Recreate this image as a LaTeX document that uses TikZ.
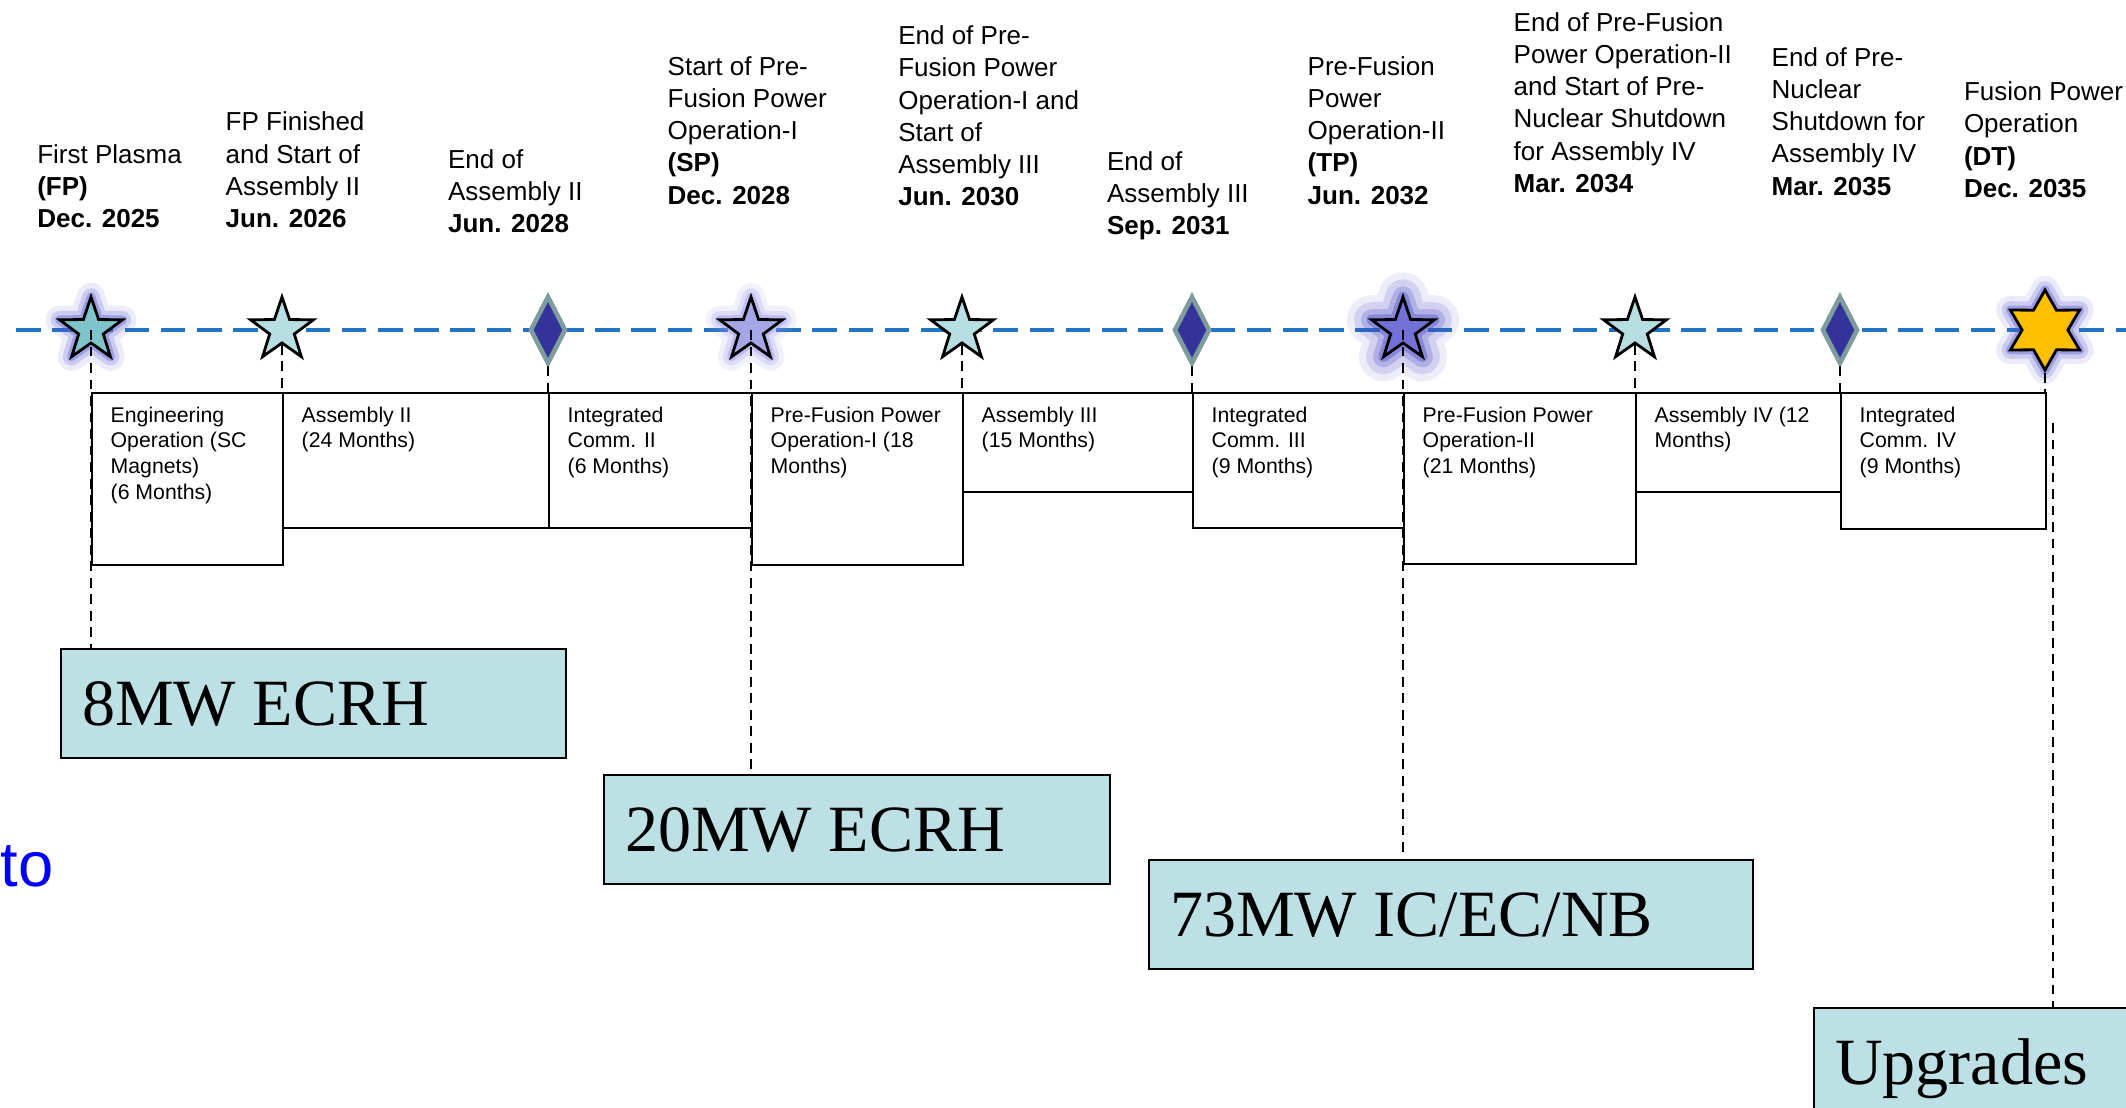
\documentclass[tikz,border=0pt]{standalone}
\usepackage{fontspec}
\setmainfont{Liberation Sans}
\newfontfamily\serifheat{Liberation Serif}
\usetikzlibrary{shapes.geometric}
\definecolor{tlblue}{HTML}{1F74C4}
\definecolor{starcyan}{HTML}{B7DEE1}
\definecolor{starteal}{HTML}{80C4CB}
\definecolor{starlav}{HTML}{A6A6E6}
\definecolor{starpurp}{HTML}{7272D6}
\definecolor{glowblue}{HTML}{5A5AD0}
\definecolor{glowlav}{HTML}{8E8EEA}
\definecolor{glowdeep}{HTML}{4A4AC4}
\definecolor{diafill}{HTML}{333399}
\definecolor{diaedge}{HTML}{7E9C9E}
\definecolor{gold}{HTML}{FFC000}
\definecolor{heatfill}{HTML}{BCE0E3}
\definecolor{noteblue}{HTML}{0000FF}
\tikzset{tline/.style={draw=tlblue,line width=1.1pt,dash pattern=on 7pt off 3.3pt},
 guide/.style={draw=black,line width=0.55pt,dash pattern=on 2.8pt off 1.9pt},
 halo/.style={preaction={draw=#1,line width=8pt,opacity=0.12,line join=round},
  preaction={draw=#1,line width=5pt,opacity=0.22,line join=round},
  preaction={draw=#1,line width=2.5pt,opacity=0.4,line join=round}},
 bighalo/.style={preaction={draw=#1,fill=#1,line width=14pt,opacity=0.1,line join=round},
  preaction={draw=#1,line width=10pt,opacity=0.16,line join=round},
  preaction={draw=#1,line width=6pt,opacity=0.25,line join=round},
  preaction={draw=#1,line width=3pt,opacity=0.4,line join=round}},
 milestar/.style={star,star points=5,star point ratio=2.55,minimum size=0.66cm,inner sep=0pt,
  draw=black,line width=0.8pt,fill=#1},
 milestarsix/.style={star,star points=6,star point ratio=1.75,minimum size=0.8cm,inner sep=0pt,
  draw=black,line width=0.8pt,fill=gold},
 milediamond/.style={diamond,aspect=0.5,minimum width=0.36cm,minimum height=0.68cm,inner sep=0pt,
  fill=diafill,draw=diaedge,line width=1.3pt},
 datelabel/.style={align=left,anchor=south west,inner sep=0pt,font=\fontsize{7.4}{9.16}\selectfont},
 phasebox/.style={draw=black,line width=0.6pt,anchor=north west,inner sep=0pt},
 phasetext/.style={align=left,anchor=north west,inner xsep=0.19cm,inner ysep=0.14cm,
  font=\fontsize{6.05}{7.35}\selectfont},
 heatbox/.style={draw=black,line width=0.6pt,fill=heatfill,anchor=north west,align=flush left,
  inner xsep=0.21cm,inner ysep=0pt,minimum height=1.09cm,text height=12.4pt,text depth=0pt,
  font=\serifheat\fontsize{18.8}{22.6}\selectfont}}
\begin{document}
\begin{tikzpicture}
\useasboundingbox (0,0) rectangle (21.26,-11.08);
\clip (0,0) rectangle (21.26,-11.08);
\coordinate (tlstart) at (0.16,-3.30);
\coordinate (tlend) at (21.4,-3.30);
\coordinate (boxtop) at (0,-3.92);
\coordinate (upstart) at (20.53,-4.23);
\draw[tline] (tlstart)--(tlend);
\node[milestar=starteal,halo=glowblue] (fp) at (0.91,-3.30) {};
\node[milestar=starcyan] (asm2) at (2.82,-3.30) {};
\node[milediamond] (endasm2) at (5.48,-3.30) {};
\node[milestar=starlav,halo=glowlav] (sp) at (7.51,-3.30) {};
\node[milestar=starcyan] (asm3) at (9.62,-3.30) {};
\node[milediamond] (endasm3) at (11.92,-3.30) {};
\node[milestar=starpurp,bighalo=glowdeep] (tp) at (14.03,-3.30) {};
\node[milestar=starcyan] (asm4) at (16.35,-3.30) {};
\node[milediamond] (endpns) at (18.40,-3.30) {};
\node[milestarsix,halo=glowblue] (dt) at (20.45,-3.30) {};
\node[datelabel] (fplbl) at (0.366,-2.285) {First Plasma\\\textbf{(FP)}\\\textbf{Dec. 2025}};
\node[datelabel] (asm2lbl) at (2.25,-2.285) {FP Finished\\and Start of\\Assembly II\\\textbf{Jun. 2026}};
\node[datelabel] (endasm2lbl) at (4.474,-2.335) {End of\\Assembly II\\\textbf{Jun. 2028}};
\node[datelabel] (splbl) at (6.67,-2.05) {Start of Pre-\\Fusion Power\\Operation-I\\\textbf{(SP)}\\\textbf{Dec. 2028}};
\node[datelabel] (asm3lbl) at (8.976,-2.067) {End of Pre-\\Fusion Power\\Operation-I and\\Start of\\Assembly III\\\textbf{Jun. 2030}};
\node[datelabel] (endasm3lbl) at (11.064,-2.405) {End of\\Assembly III\\\textbf{Sep. 2031}};
\node[datelabel] (tplbl) at (13.07,-2.05) {Pre-Fusion\\Power\\Operation-II\\\textbf{(TP)}\\\textbf{Jun. 2032}};
\node[datelabel] (asm4lbl) at (15.13,-1.933) {End of Pre-Fusion\\Power Operation-II\\and Start of Pre-\\Nuclear Shutdown\\for Assembly IV\\\textbf{Mar. 2034}};
\node[datelabel] (endpnslbl) at (17.71,-1.96) {End of Pre-\\Nuclear\\Shutdown for\\Assembly IV\\\textbf{Mar. 2035}};
\node[datelabel] (dtlbl) at (19.633,-1.983) {Fusion Power\\Operation\\\textbf{(DT)}\\\textbf{Dec. 2035}};
\node[phasebox,minimum width=1.91cm,minimum height=1.72cm] (engop) at (fp.center |- boxtop) {};
\node[phasetext] (engoptxt) at (engop.north west) {Engineering\\Operation (SC\\Magnets)\\(6 Months)};
\node[phasebox,minimum width=2.66cm,minimum height=1.35cm] (asm2box) at (asm2.center |- boxtop) {};
\node[phasetext] (asm2txt) at (asm2box.north west) {Assembly II\\(24 Months)};
\node[phasebox,minimum width=2.03cm,minimum height=1.35cm] (comm2) at (endasm2.center |- boxtop) {};
\node[phasetext] (comm2txt) at (comm2.north west) {Integrated\\Comm. II\\(6 Months)};
\node[phasebox,minimum width=2.11cm,minimum height=1.72cm] (pfpo1) at (sp.center |- boxtop) {};
\node[phasetext] (pfpo1txt) at (pfpo1.north west) {Pre-Fusion Power\\Operation-I (18\\Months)};
\node[phasebox,minimum width=2.30cm,minimum height=0.99cm] (asm3box) at (asm3.center |- boxtop) {};
\node[phasetext] (asm3txt) at (asm3box.north west) {Assembly III\\(15 Months)};
\node[phasebox,minimum width=2.11cm,minimum height=1.35cm] (comm3) at (endasm3.center |- boxtop) {};
\node[phasetext] (comm3txt) at (comm3.north west) {Integrated\\Comm. III\\(9 Months)};
\node[phasebox,minimum width=2.32cm,minimum height=1.71cm] (pfpo2) at (tp.center |- boxtop) {};
\node[phasetext] (pfpo2txt) at (pfpo2.north west) {Pre-Fusion Power\\Operation-II\\(21 Months)};
\node[phasebox,minimum width=2.05cm,minimum height=0.99cm] (asm4box) at (asm4.center |- boxtop) {};
\node[phasetext] (asm4txt) at (asm4box.north west) {Assembly IV (12\\Months)};
\node[phasebox,minimum width=2.05cm,minimum height=1.36cm] (comm4) at (endpns.center |- boxtop) {};
\node[phasetext] (comm4txt) at (comm4.north west) {Integrated\\Comm. IV\\(9 Months)};
\node[heatbox,text width=4.63cm] (ecrh8) at (0.60,-6.48) {8MW ECRH};
\node[heatbox,text width=4.64cm] (ecrh20) at (6.03,-7.74) {20MW ECRH};
\node[heatbox,text width=5.62cm] (icecnb) at (11.48,-8.59) {73MW IC/EC/NB};
\node[heatbox,text width=4.63cm] (upgr) at (18.13,-10.07) {Upgrades};
\draw[guide] (fp.center)--(fp.center |- ecrh8.north);
\draw[guide] (asm2.south)--(asm2.south |- boxtop);
\draw[guide] (endasm2.south)--(endasm2.south |- boxtop);
\draw[guide] (sp.center)--(sp.center |- ecrh20.north);
\draw[guide] (asm3.south)--(asm3.south |- boxtop);
\draw[guide] (endasm3.south)--(endasm3.south |- boxtop);
\draw[guide] (tp.center)--(tp.center |- icecnb.north);
\draw[guide] (asm4.south)--(asm4.south |- boxtop);
\draw[guide] (endpns.south)--(endpns.south |- boxtop);
\draw[guide] (dt.south)--(dt.south |- boxtop);
\draw[guide] (upstart)--(upstart |- upgr.north);
\node[font=\fontsize{18}{21.6}\selectfont,text=noteblue,anchor=base west,inner sep=0pt] (tonote) at (0,-8.86) {to};
\end{tikzpicture}
\end{document}
